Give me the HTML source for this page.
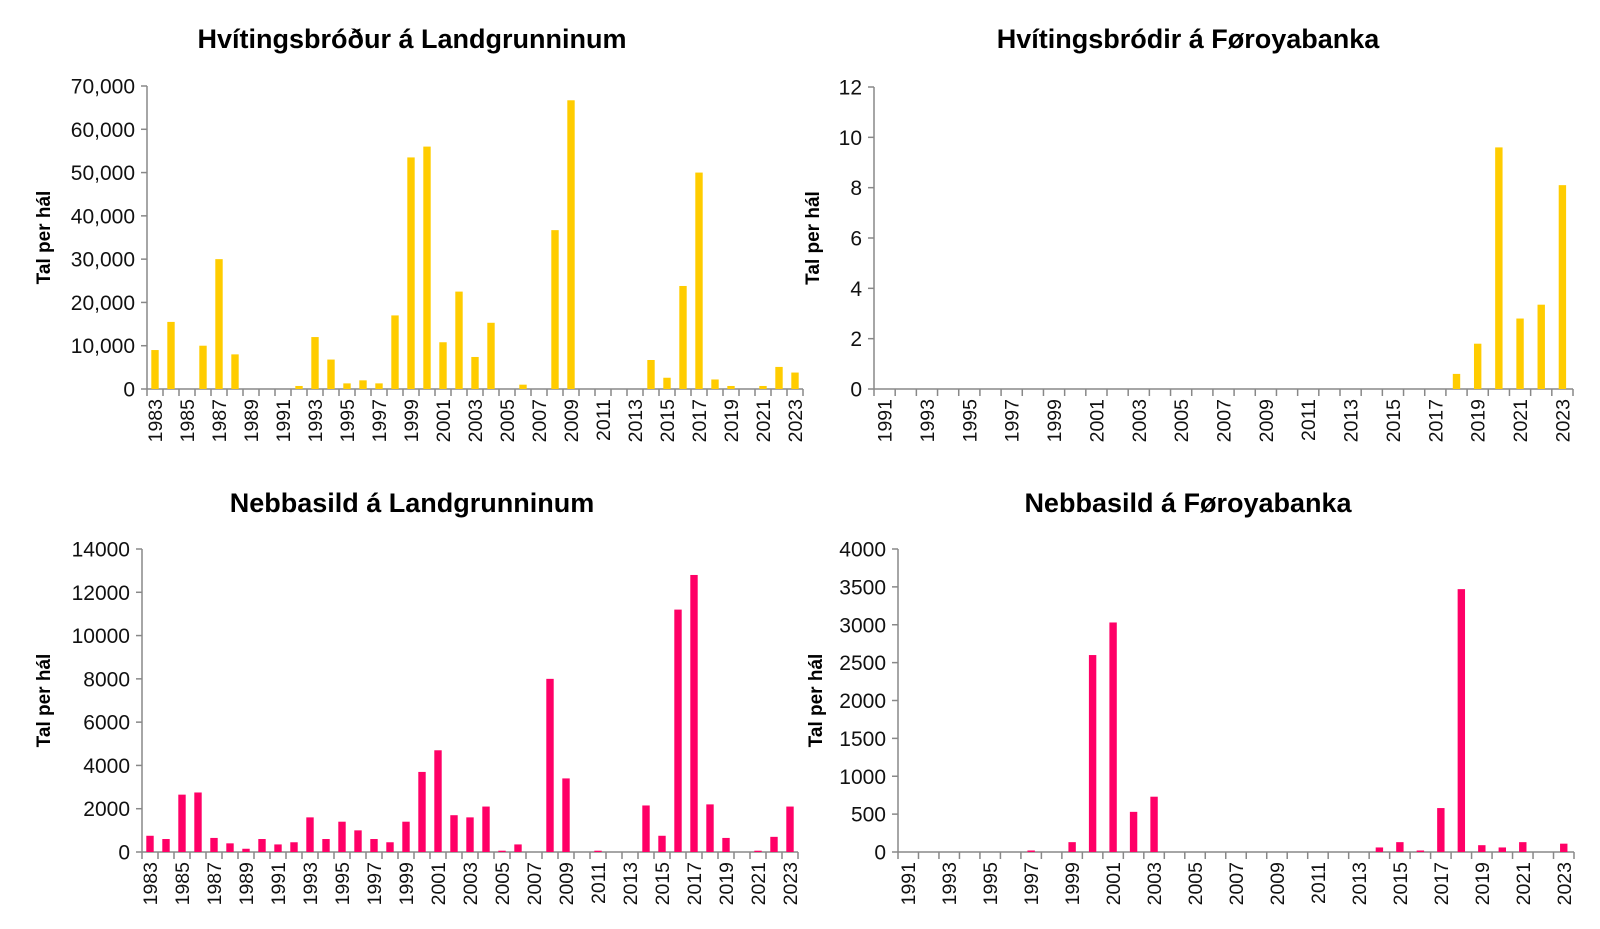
<!DOCTYPE html><html><head><meta charset="utf-8"><style>
html,body{margin:0;padding:0;background:#fff;width:1600px;height:929px;overflow:hidden}
svg text{font-family:"Liberation Sans",sans-serif}
</style></head><body>
<svg id="s" width="1600" height="929" xmlns="http://www.w3.org/2000/svg"></svg>
<script>
const S=document.getElementById('s');let h='';
function chart(o){
 const {x0,x1,y0,y1,start,data,max,step,fmt,color,title,tx,ty,ylx}=o;
 const n=data.length,w=(x1-x0)/n;
 h+=`<text x="${tx}" y="${ty}" font-size="27" font-weight="bold" text-anchor="middle" fill="#000">${title}</text>`;
 h+=`<line x1="${x0}" y1="${y0}" x2="${x0}" y2="${y1}" stroke="#888" stroke-width="1.5"/>`;
 h+=`<line x1="${x0}" y1="${y1}" x2="${x1}" y2="${y1}" stroke="#888" stroke-width="1.5"/>`;
 for(let v=0;v<=max+1e-9;v+=step){const y=y1-(y1-y0)*v/max;
  h+=`<line x1="${x0-6}" y1="${y}" x2="${x0}" y2="${y}" stroke="#888" stroke-width="1.5"/>`;
  h+=`<text x="${x0-12}" y="${y+7.5}" font-size="21" text-anchor="end" fill="#111">${fmt(v)}</text>`;}
 for(let i=0;i<=n;i++){const x=x0+i*w;h+=`<line x1="${x}" y1="${y1}" x2="${x}" y2="${y1+7}" stroke="#888" stroke-width="1.5"/>`;}
 data.forEach((d,i)=>{const cx=x0+(i+0.5)*w;
  if(d>0){const bh=(y1-y0)*d/max;h+=`<rect x="${cx-3.7}" y="${y1-bh}" width="7.4" height="${bh}" fill="${color}"/>`;}
  if(i%2==0)h+=`<text transform="translate(${cx+7},${y1+10}) rotate(-90)" font-size="19.5" text-anchor="end" fill="#111">${start+i}</text>`;});
 h+=`<text transform="translate(${ylx},${(y0+y1)/2}) rotate(-90)" font-size="19" font-weight="bold" text-anchor="middle" fill="#000">Tal per hál</text>`;
}
const c=v=>v.toLocaleString('en-US');
chart({x0:147,x1:803,y0:86,y1:389,start:1983,max:70000,step:10000,fmt:c,color:"#FFCC00",title:"Hvítingsbróður á Landgrunninum",tx:412,ty:48,ylx:50,
data:[9000,15500,0,10000,30000,8000,0,0,0,700,12000,6800,1300,2000,1300,17000,53500,56000,10800,22500,7400,15300,0,1000,0,36700,66700,0,0,0,0,6700,2600,23800,50000,2200,700,0,700,5100,3800]});
let tr=new Array(33).fill(0);tr[27]=0.6;tr[28]=1.8;tr[29]=9.6;tr[30]=2.8;tr[31]=3.35;tr[32]=8.1;
chart({x0:874,x1:1573,y0:87,y1:389,start:1991,max:12,step:2,fmt:v=>v,color:"#FFCC00",title:"Hvítingsbródir á Føroyabanka",tx:1188,ty:48,ylx:819,data:tr});
chart({x0:142,x1:798,y0:549,y1:852,start:1983,max:14000,step:2000,fmt:v=>v,color:"#FF0066",title:"Nebbasild á Landgrunninum",tx:412,ty:512,ylx:50,
data:[750,600,2650,2750,650,400,150,600,350,450,1600,600,1400,1000,600,450,1400,3700,4700,1700,1600,2100,60,350,0,8000,3400,0,60,0,0,2150,750,11200,12800,2200,650,0,60,700,2100]});
let br=new Array(33).fill(0);Object.entries({1997:20,1999:130,2000:2600,2001:3030,2002:530,2003:730,2014:60,2015:130,2016:20,2017:580,2018:3470,2019:90,2020:60,2021:130,2023:110}).forEach(([k,v])=>br[k-1991]=v);
chart({x0:898,x1:1574,y0:549,y1:852,start:1991,max:4000,step:500,fmt:v=>v,color:"#FF0066",title:"Nebbasild á Føroyabanka",tx:1188,ty:512,ylx:822,data:br});
S.innerHTML=h;
</script></body></html>
